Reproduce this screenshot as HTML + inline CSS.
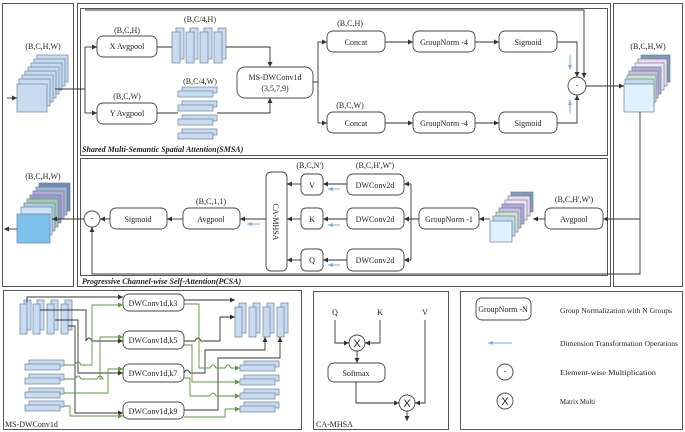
<!DOCTYPE html>
<html><head><meta charset="utf-8"><style>
html,body{margin:0;padding:0;background:#fff;}
svg{display:block;font-family:"Liberation Serif",serif;}
</style></head><body>
<svg width="685" height="432" viewBox="0 0 685 432" xmlns="http://www.w3.org/2000/svg">
<defs>
<marker id="a" markerWidth="6" markerHeight="6" refX="5" refY="3" orient="auto" markerUnits="userSpaceOnUse"><path d="M0,0.5 L5,3 L0,5.5 Z" fill="#333"/></marker>
<marker id="g" markerWidth="6" markerHeight="6" refX="5" refY="3" orient="auto" markerUnits="userSpaceOnUse"><path d="M0,0.5 L5,3 L0,5.5 Z" fill="#5a9a3a"/></marker>
<marker id="b" markerWidth="6" markerHeight="6" refX="5" refY="3" orient="auto" markerUnits="userSpaceOnUse"><path d="M0,1 L5,3 L0,5 Z" fill="#7fb0d0"/></marker>
</defs>
<g fill="none" stroke="#555" stroke-width="1">
<rect x="2.5" y="3.5" width="71" height="283"/>
<rect x="77.5" y="3.5" width="533" height="283"/>
<rect x="80.5" y="8.5" width="527" height="147"/>
<rect x="80.5" y="158.5" width="527" height="117"/>
<rect x="613.5" y="3.5" width="69" height="283"/>
<rect x="3.5" y="290.5" width="298" height="139"/>
<rect x="313.5" y="291.5" width="135" height="138"/>
<rect x="460.5" y="291.5" width="222" height="138"/>
</g>
<g font-size="8" fill="#222" text-anchor="middle">
<text x="43" y="49">(B,C,H,W)</text>
<text x="127" y="33">(B,C,H)</text>
<text x="127" y="99">(B,C,W)</text>
<text x="200" y="22">(B,C/4,H)</text>
<text x="200" y="84">(B,C/4,W)</text>
<text x="350" y="26">(B,C,H)</text>
<text x="350" y="108">(B,C,W)</text>
<text x="648" y="49">(B,C,H,W)</text>
<text x="43" y="179">(B,C,H,W)</text>
<text x="574" y="202">(B,C,H',W')</text>
<text x="375" y="168">(B,C,H',W')</text>
<text x="310" y="168">(B,C,N')</text>
<text x="211" y="204">(B,C,1,1)</text>
</g>
<g font-size="8" font-weight="bold" font-style="italic" fill="#222">
<text x="82" y="152">Shared Multi-Semantic Spatial Attention(SMSA)</text>
<text x="82" y="284">Progressive Channel-wise Self-Attention(PCSA)</text>
</g>
<g stroke="#6a7fa0" stroke-width="0.7" fill="#c9dcef">
<rect x="37" y="55" width="31" height="27"/><rect x="34" y="59" width="31" height="27"/><rect x="31" y="63" width="31" height="27"/><rect x="28" y="67" width="31" height="27"/><rect x="25" y="71" width="31" height="27"/><rect x="22" y="75" width="31" height="27"/><rect x="19" y="79" width="31" height="27"/><rect x="17" y="84" width="30" height="28"/>
</g>
<g stroke="#6a7fa0" stroke-width="0.7">
<rect x="641" y="55" width="29" height="27" fill="#7f9bb9"/><rect x="638" y="59" width="29" height="27" fill="#f3d9e8"/><rect x="635" y="63" width="29" height="27" fill="#ece8f6"/><rect x="632" y="67" width="29" height="27" fill="#b4a9d4"/><rect x="629" y="71" width="29" height="27" fill="#c7bfe0"/><rect x="627" y="75" width="29" height="27" fill="#cde6c0"/><rect x="625" y="79" width="29" height="27" fill="#c2d8ec"/><rect x="624" y="84" width="30" height="28" fill="#e0f1fb"/>
</g>
<g stroke="#6a7fa0" stroke-width="0.7">
<rect x="39" y="183" width="31" height="28" fill="#6f8caf"/><rect x="36" y="187" width="31" height="28" fill="#a3b6cf"/><rect x="33" y="191" width="31" height="28" fill="#b4a9d4"/><rect x="30" y="195" width="31" height="28" fill="#9a9cc8"/><rect x="27" y="199" width="31" height="28" fill="#a7cf9a"/><rect x="24" y="203" width="31" height="28" fill="#a9cbe6"/><rect x="21" y="207" width="31" height="28" fill="#cfe3f3"/><rect x="17" y="214" width="33" height="29" fill="#7cc2ec"/>
</g>
<g stroke="#6a7fa0" stroke-width="0.7">
<rect x="511" y="192" width="22" height="20" fill="#7f9bb9"/><rect x="508" y="196" width="22" height="20" fill="#f3d9e8"/><rect x="505" y="200" width="22" height="20" fill="#ece8f6"/><rect x="502" y="204" width="22" height="20" fill="#b4a9d4"/><rect x="499" y="208" width="22" height="20" fill="#c7bfe0"/><rect x="496" y="212" width="22" height="20" fill="#cde6c0"/><rect x="493" y="216" width="22" height="20" fill="#c2d8ec"/><rect x="490" y="221" width="22" height="21" fill="#e0f1fb"/>
</g>
<g stroke="#6a7fa0" stroke-width="0.7" fill="#c9dcef">
<rect x="176" y="28" width="8" height="31"/><rect x="172" y="32" width="8" height="31"/>
<rect x="190" y="28" width="8" height="31"/><rect x="186" y="32" width="8" height="31"/>
<rect x="204" y="28" width="8" height="31"/><rect x="200" y="32" width="8" height="31"/>
<rect x="218" y="28" width="8" height="31"/><rect x="214" y="32" width="8" height="31"/>
<rect x="182" y="87" width="35" height="6"/><rect x="178" y="91" width="35" height="6"/>
<rect x="182" y="101" width="35" height="6"/><rect x="178" y="105" width="35" height="6"/>
<rect x="182" y="115" width="35" height="6"/><rect x="178" y="119" width="35" height="6"/>
<rect x="182" y="129" width="35" height="6"/><rect x="178" y="133" width="35" height="6"/>
<rect x="24" y="300" width="7" height="30"/><rect x="20" y="304" width="7" height="30"/>
<rect x="37" y="300" width="7" height="30"/><rect x="33" y="304" width="7" height="30"/>
<rect x="51" y="300" width="7" height="30"/><rect x="47" y="304" width="7" height="30"/>
<rect x="65" y="300" width="7" height="30"/><rect x="61" y="304" width="7" height="30"/>
<rect x="29" y="360" width="35" height="6"/><rect x="25" y="364" width="35" height="6"/>
<rect x="29" y="374" width="35" height="6"/><rect x="25" y="378" width="35" height="6"/>
<rect x="29" y="388" width="35" height="6"/><rect x="25" y="392" width="35" height="6"/>
<rect x="29" y="401" width="35" height="6"/><rect x="25" y="405" width="35" height="6"/>
<rect x="239" y="303" width="7" height="30"/><rect x="235" y="307" width="7" height="30"/>
<rect x="253" y="303" width="7" height="30"/><rect x="249" y="307" width="7" height="30"/>
<rect x="267" y="303" width="7" height="30"/><rect x="263" y="307" width="7" height="30"/>
<rect x="281" y="303" width="7" height="30"/><rect x="277" y="307" width="7" height="30"/>
<rect x="244" y="361" width="35" height="6"/><rect x="240" y="365" width="35" height="6"/>
<rect x="244" y="375" width="35" height="6"/><rect x="240" y="379" width="35" height="6"/>
<rect x="244" y="389" width="35" height="6"/><rect x="240" y="393" width="35" height="6"/>
<rect x="244" y="402" width="35" height="6"/><rect x="240" y="406" width="35" height="6"/>
</g>
<g fill="#fff" stroke="#444" stroke-width="0.9">
<rect x="97" y="36" width="60" height="21" rx="6"/>
<rect x="97" y="103" width="60" height="21" rx="6"/>
<rect x="237" y="67" width="76" height="31" rx="8"/>
<rect x="327" y="31" width="58" height="21" rx="6"/>
<rect x="327" y="112" width="58" height="21" rx="6"/>
<rect x="413" y="31" width="62" height="21" rx="6"/>
<rect x="413" y="112" width="62" height="21" rx="6"/>
<rect x="499" y="31" width="58" height="21" rx="6"/>
<rect x="499" y="112" width="58" height="21" rx="6"/>
<rect x="545" y="208" width="58" height="21" rx="6"/>
<rect x="419" y="208" width="60" height="21" rx="6"/>
<rect x="347" y="174" width="57" height="21" rx="6"/>
<rect x="347" y="208" width="57" height="21" rx="6"/>
<rect x="347" y="249" width="57" height="22" rx="6"/>
<rect x="301" y="174" width="22" height="21" rx="5"/>
<rect x="301" y="208" width="22" height="21" rx="5"/>
<rect x="301" y="249" width="22" height="22" rx="5"/>
<rect x="266" y="172" width="21" height="99" rx="5"/>
<rect x="183" y="208" width="57" height="21" rx="6"/>
<rect x="110" y="208" width="57" height="21" rx="6"/>
<rect x="123" y="294" width="61" height="17" rx="6"/>
<rect x="123" y="331" width="61" height="18" rx="6"/>
<rect x="123" y="364" width="61" height="18" rx="6"/>
<rect x="123" y="402" width="61" height="17" rx="6"/>
<rect x="328" y="363" width="57" height="19" rx="6"/>
<rect x="476" y="298" width="55" height="22" rx="6"/>
<circle cx="577" cy="86" r="9"/>
<circle cx="92" cy="219" r="8"/>
<circle cx="357" cy="343" r="8"/>
<circle cx="407" cy="403" r="8"/>
<circle cx="505" cy="372" r="8"/>
<circle cx="505" cy="401" r="8"/>
</g>
<g font-size="8" fill="#222" text-anchor="middle">
<text x="127" y="49">X Avgpool</text>
<text x="127" y="116">Y Avgpool</text>
<text x="275" y="80">MS-DWConv1d</text>
<text x="275" y="91">(3,5,7,9)</text>
<text x="356" y="45">Concat</text><text x="356" y="126">Concat</text>
<text x="444" y="45">GroupNorm -4</text><text x="444" y="126">GroupNorm -4</text>
<text x="528" y="45">Sigmoid</text><text x="528" y="126">Sigmoid</text>
<text x="574" y="222">Avgpool</text>
<text x="449" y="222">GroupNorm -1</text>
<text x="375" y="188">DWConv2d</text><text x="375" y="222">DWConv2d</text><text x="375" y="263">DWConv2d</text>
<text x="312" y="188">V</text><text x="312" y="222">K</text><text x="312" y="263">Q</text>
<text x="211" y="222">Avgpool</text>
<text x="138" y="222">Sigmoid</text>
<text transform="translate(273,222) rotate(90)" font-size="8">CA-MHSA</text>
<text x="153" y="306">DWConv1d,k3</text>
<text x="153" y="343">DWConv1d,k5</text>
<text x="153" y="376">DWConv1d,k7</text>
<text x="153" y="414">DWConv1d,k9</text>
<text x="356" y="376">Softmax</text>
<text x="335" y="315">Q</text><text x="380" y="315">K</text><text x="425" y="315">V</text>
<text x="503" y="312">GroupNorm -N</text>
<text x="577" y="89" font-size="10">·</text>
<text x="92" y="222" font-size="10">·</text>
<text x="505" y="375" font-size="10">·</text>
<text x="357" y="347" font-size="11" font-family="Liberation Sans,sans-serif">X</text>
<text x="407" y="407" font-size="11" font-family="Liberation Sans,sans-serif">X</text>
<text x="505" y="405" font-size="11" font-family="Liberation Sans,sans-serif">X</text>
</g>
<g font-size="7.5" fill="#222">
<text x="5" y="427" font-size="8">MS-DWConv1d</text>
<text x="316" y="427" font-size="8">CA-MHSA</text>
<text x="560" y="313" textLength="112" lengthAdjust="spacingAndGlyphs">Group Normalization with N Groups</text>
<text x="560" y="346" textLength="118" lengthAdjust="spacingAndGlyphs">Dimension Transformation Operations</text>
<text x="560" y="375" textLength="96" lengthAdjust="spacingAndGlyphs">Element-wise Multiplication</text>
<text x="560" y="404" textLength="35" lengthAdjust="spacingAndGlyphs">Matrix Multi</text>
</g>
<g fill="none" stroke="#333" stroke-width="0.9">
<path d="M7,98 H17" marker-end="url(#a)"/>
<path d="M55,89 H85 M85,47 V113"/>
<path d="M85,47 H97" marker-end="url(#a)"/>
<path d="M85,113 H97" marker-end="url(#a)"/>
<path d="M157,47 H172 M226,47 H270 V67" marker-end="url(#a)"/>
<path d="M157,113 H178 M217,113 H270 V98" marker-end="url(#a)"/>
<path d="M313,82 H318 M318,42 V123"/>
<path d="M318,42 H327" marker-end="url(#a)"/>
<path d="M318,123 H327" marker-end="url(#a)"/>
<path d="M385,42 H413" marker-end="url(#a)"/>
<path d="M475,42 H499" marker-end="url(#a)"/>
<path d="M385,123 H413" marker-end="url(#a)"/>
<path d="M475,123 H499" marker-end="url(#a)"/>
<path d="M557,42 H577 V77" marker-end="url(#a)"/>
<path d="M557,123 H577 V95" marker-end="url(#a)"/>
<path d="M85,10 H584 V78" marker-end="url(#a)"/>
<path d="M586,86 H624" marker-end="url(#a)"/>
<path d="M640,112 V274 H92 V227" marker-end="url(#a)"/>
<path d="M640,219 H603" marker-end="url(#a)"/>
<path d="M545,219 H533" marker-end="url(#a)"/>
<path d="M490,219 H479" marker-end="url(#a)"/>
<path d="M419,219 H411 M411,184 V260"/>
<path d="M411,184 H404" marker-end="url(#a)"/>
<path d="M411,219 H404" marker-end="url(#a)"/>
<path d="M411,260 H404" marker-end="url(#a)"/>
<path d="M347,184 H323" marker-end="url(#a)"/>
<path d="M347,219 H323" marker-end="url(#a)"/>
<path d="M347,260 H323" marker-end="url(#a)"/>
<path d="M301,184 H287" marker-end="url(#a)"/>
<path d="M301,219 H287" marker-end="url(#a)"/>
<path d="M301,260 H287" marker-end="url(#a)"/>
<path d="M266,219 H240" marker-end="url(#a)"/>
<path d="M183,219 H167" marker-end="url(#a)"/>
<path d="M110,219 H100" marker-end="url(#a)"/>
<path d="M84,219 H52" marker-end="url(#a)"/>
<path d="M17,229 H4" marker-end="url(#a)"/>
<path d="M335,320 V343 H349" marker-end="url(#a)"/>
<path d="M380,320 V343 H365" marker-end="url(#a)"/>
<path d="M357,351 V363" marker-end="url(#a)"/>
<path d="M356,382 V403 H399" marker-end="url(#a)"/>
<path d="M425,320 V403 H415" marker-end="url(#a)"/>
<path d="M407,411 V421" marker-end="url(#a)"/>
<path d="M27,303 V297 H123" marker-end="url(#a)"/>
<path d="M40,310 H86 V341 Q89,335 92,341 H123" marker-end="url(#a)"/>
<path d="M55,320 H78 V373 H123" marker-end="url(#a)"/>
<path d="M68,326 H75 V413 H123" marker-end="url(#a)"/>
<path d="M184,300 H235" marker-end="url(#a)"/>
<path d="M184,341 H195 Q198,335 201,341 H220 V317 H235" marker-end="url(#a)"/>
<path d="M184,373 Q187,367 190,373 H205 V350 H265 V337" marker-end="url(#a)"/>
<path d="M184,410 H218 V358 H280 V337" marker-end="url(#a)"/>
</g>
<g fill="none" stroke="#5a9a3a" stroke-width="0.9">
<path d="M64,365 H75 Q78,359 81,365 H92 V305 H123" marker-end="url(#g)"/>
<path d="M64,379 H75 Q78,373 81,379 H97 Q100,373 103,379 H100 V337 H123" marker-end="url(#g)"/>
<path d="M64,393 H108 V369 H123" marker-end="url(#g)"/>
<path d="M64,406 H70 V416 H123" marker-end="url(#g)"/>
<path d="M184,304 H199 V368 H210 Q213,362 216,368 H225 Q228,362 231,368 H240" marker-end="url(#g)"/>
<path d="M184,345 H192 V382 H240" marker-end="url(#g)"/>
<path d="M184,378 H190 V396 H210 Q213,390 216,396 H240" marker-end="url(#g)"/>
<path d="M184,417 H225 V409 H240" marker-end="url(#g)"/>
</g>
<g fill="none" stroke="#7fb0d0" stroke-width="1">
<path d="M570,55 V70" marker-end="url(#b)"/>
<path d="M570,113 V100" marker-end="url(#b)"/>
<path d="M340,189 H328" marker-end="url(#b)"/>
<path d="M340,225 H328" marker-end="url(#b)"/>
<path d="M340,265 H328" marker-end="url(#b)"/>
<path d="M260,224 H247" marker-end="url(#b)"/>
<path d="M512,343 H488" marker-end="url(#b)"/>
</g>
</svg>
</body></html>
